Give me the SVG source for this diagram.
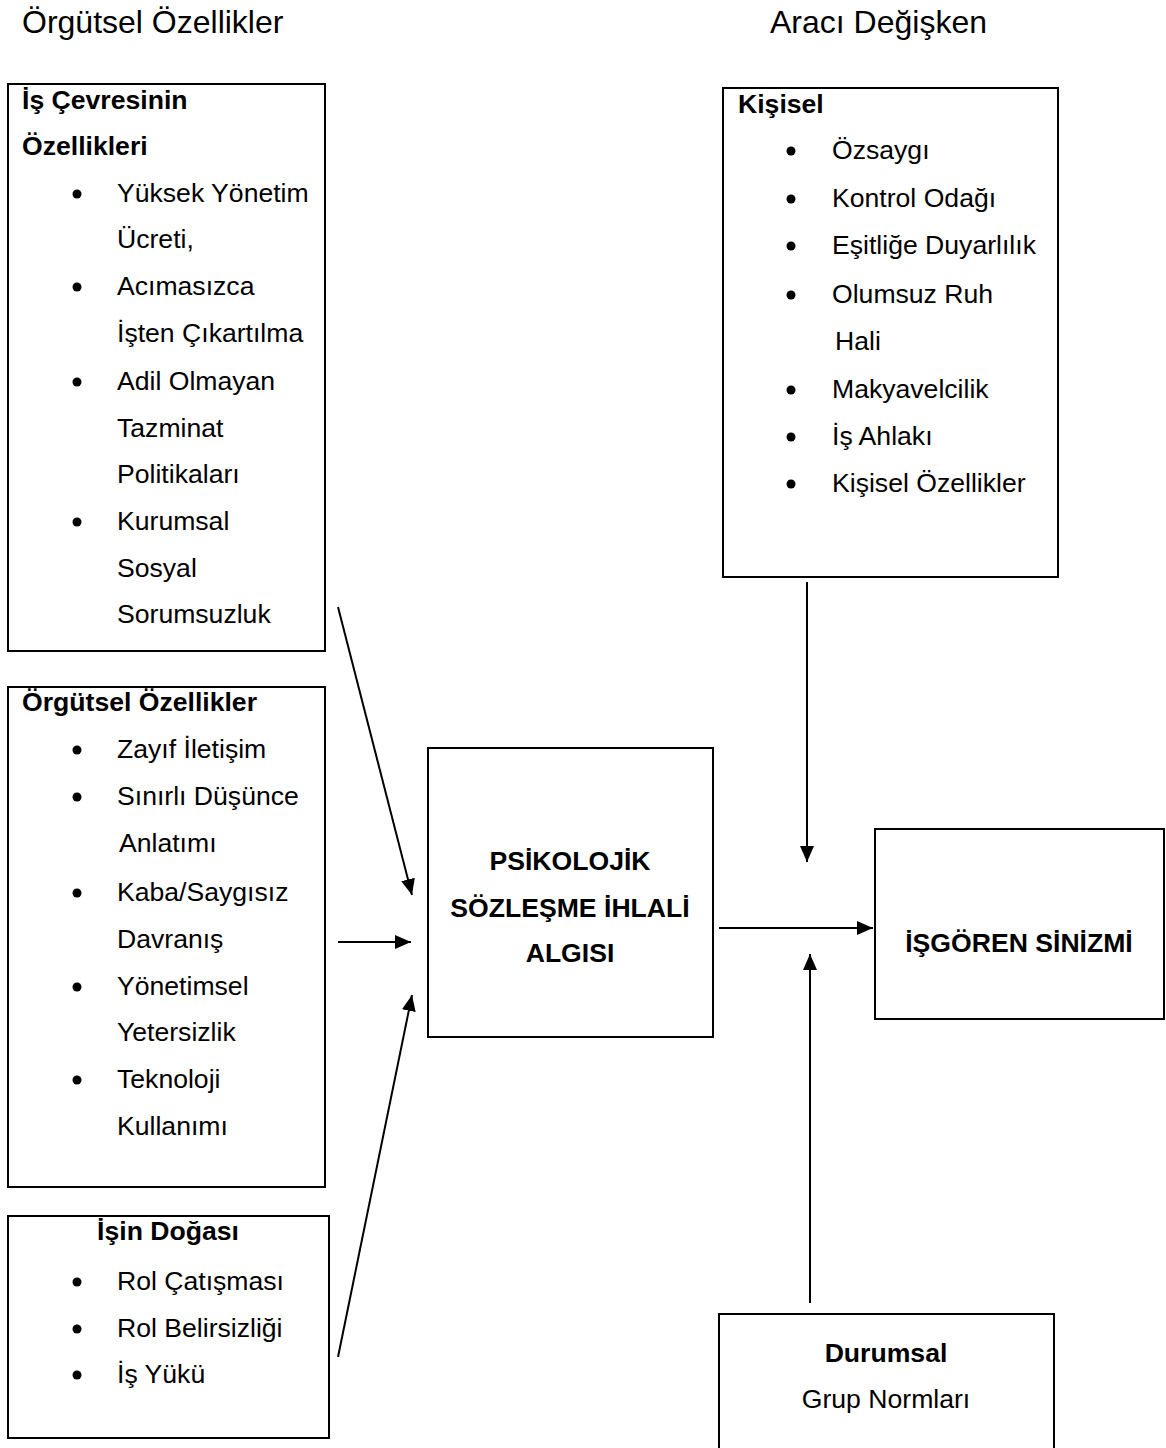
<svg xmlns="http://www.w3.org/2000/svg" width="1166" height="1448" viewBox="0 0 1166 1448">
  <style>
    text { font-family: "Liberation Sans", Arial, sans-serif; fill: #000; }
    .title { font-size: 32px; }
    .t { font-size: 26.6px; }
    .b { font-size: 26.6px; font-weight: bold; }
    .mid { text-anchor: middle; }
    .box { fill: #fff; stroke: #000; stroke-width: 2; }
    .dot { fill: #000; }
    .conn line { stroke: #000; stroke-width: 2; marker-end: url(#arrow); }
  </style>
  <defs>
    <marker id="arrow" markerUnits="userSpaceOnUse" markerWidth="16" markerHeight="14" refX="16" refY="7" orient="auto">
      <path d="M0,0 L16,7 L0,14 z" fill="#000"/>
    </marker>
  </defs>

  <rect width="1166" height="1448" fill="#fff"/>

  <!-- column headings -->
  <text class="title" x="22" y="33">Örgütsel Özellikler</text>
  <text class="title" x="770" y="33">Aracı Değişken</text>

  <!-- work environment -->
  <g id="is-cevresi">
    <rect class="box" x="8" y="84" width="317" height="567"/>
    <text class="b" x="22" y="109">İş Çevresinin</text>
    <text class="b" x="22" y="155">Özellikleri</text>
    <circle class="dot" cx="77" cy="194" r="4.5"/>
    <text class="t" x="117" y="202">Yüksek Yönetim</text>
    <text class="t" x="117" y="248">Ücreti,</text>
    <circle class="dot" cx="77" cy="287" r="4.5"/>
    <text class="t" x="117" y="295">Acımasızca</text>
    <text class="t" x="117" y="342">İşten Çıkartılma</text>
    <circle class="dot" cx="77" cy="382" r="4.5"/>
    <text class="t" x="117" y="390">Adil Olmayan</text>
    <text class="t" x="117" y="437">Tazminat</text>
    <text class="t" x="117" y="483">Politikaları</text>
    <circle class="dot" cx="77" cy="522" r="4.5"/>
    <text class="t" x="117" y="530">Kurumsal</text>
    <text class="t" x="117" y="577">Sosyal</text>
    <text class="t" x="117" y="623">Sorumsuzluk</text>
  </g>

  <!-- organisational characteristics -->
  <g id="orgutsel">
    <rect class="box" x="8" y="687" width="317" height="500"/>
    <text class="b" x="22" y="711">Örgütsel Özellikler</text>
    <circle class="dot" cx="77" cy="750" r="4.5"/>
    <text class="t" x="117" y="758">Zayıf İletişim</text>
    <circle class="dot" cx="77" cy="797" r="4.5"/>
    <text class="t" x="117" y="805">Sınırlı Düşünce</text>
    <text class="t" x="119" y="852">Anlatımı</text>
    <circle class="dot" cx="77" cy="893" r="4.5"/>
    <text class="t" x="117" y="901">Kaba/Saygısız</text>
    <text class="t" x="117" y="948">Davranış</text>
    <circle class="dot" cx="77" cy="987" r="4.5"/>
    <text class="t" x="117" y="995">Yönetimsel</text>
    <text class="t" x="117" y="1041">Yetersizlik</text>
    <circle class="dot" cx="77" cy="1080" r="4.5"/>
    <text class="t" x="117" y="1088">Teknoloji</text>
    <text class="t" x="117" y="1135">Kullanımı</text>
  </g>

  <!-- nature of the job -->
  <g id="isin-dogasi">
    <rect class="box" x="8" y="1216" width="321" height="222"/>
    <text class="b mid" x="168" y="1240">İşin Doğası</text>
    <circle class="dot" cx="77" cy="1282" r="4.5"/>
    <text class="t" x="117" y="1290">Rol Çatışması</text>
    <circle class="dot" cx="77" cy="1329" r="4.5"/>
    <text class="t" x="117" y="1337">Rol Belirsizliği</text>
    <circle class="dot" cx="77" cy="1375" r="4.5"/>
    <text class="t" x="117" y="1383">İş Yükü</text>
  </g>

  <!-- central construct -->
  <g id="ihlal-algisi">
    <rect class="box" x="428" y="748" width="285" height="289"/>
    <text class="b mid" x="570" y="870">PSİKOLOJİK</text>
    <text class="b mid" x="570" y="917">SÖZLEŞME İHLALİ</text>
    <text class="b mid" x="570" y="962">ALGISI</text>
  </g>

  <!-- personal moderators -->
  <g id="kisisel">
    <rect class="box" x="723" y="88" width="335" height="489"/>
    <text class="b" x="738" y="113">Kişisel</text>
    <circle class="dot" cx="791" cy="151" r="4.5"/>
    <text class="t" x="832" y="159">Özsaygı</text>
    <circle class="dot" cx="791" cy="199" r="4.5"/>
    <text class="t" x="832" y="207">Kontrol Odağı</text>
    <circle class="dot" cx="791" cy="246" r="4.5"/>
    <text class="t" x="832" y="254">Eşitliğe Duyarlılık</text>
    <circle class="dot" cx="791" cy="295" r="4.5"/>
    <text class="t" x="832" y="303">Olumsuz Ruh</text>
    <text class="t" x="835" y="350">Hali</text>
    <circle class="dot" cx="791" cy="390" r="4.5"/>
    <text class="t" x="832" y="398">Makyavelcilik</text>
    <circle class="dot" cx="791" cy="437" r="4.5"/>
    <text class="t" x="832" y="445">İş Ahlakı</text>
    <circle class="dot" cx="791" cy="484" r="4.5"/>
    <text class="t" x="832" y="492">Kişisel Özellikler</text>
  </g>

  <!-- outcome -->
  <g id="sinizm">
    <rect class="box" x="875" y="829" width="289" height="190"/>
    <text class="b mid" x="1019" y="952">İŞGÖREN SİNİZMİ</text>
  </g>

  <!-- situational moderator -->
  <g id="durumsal">
    <rect class="box" x="719" y="1314" width="335" height="140"/>
    <text class="b mid" x="886" y="1362">Durumsal</text>
    <text class="t mid" x="886" y="1408">Grup Normları</text>
  </g>

  <!-- connectors -->
  <g id="connectors" class="conn">
    <line x1="338" y1="607" x2="412" y2="895"/>
    <line x1="338" y1="942" x2="411" y2="942"/>
    <line x1="338" y1="1357" x2="412" y2="995"/>
    <line x1="807" y1="582" x2="807" y2="862"/>
    <line x1="810" y1="1303" x2="810" y2="954"/>
    <line x1="719" y1="928" x2="873" y2="928"/>
  </g>
</svg>
